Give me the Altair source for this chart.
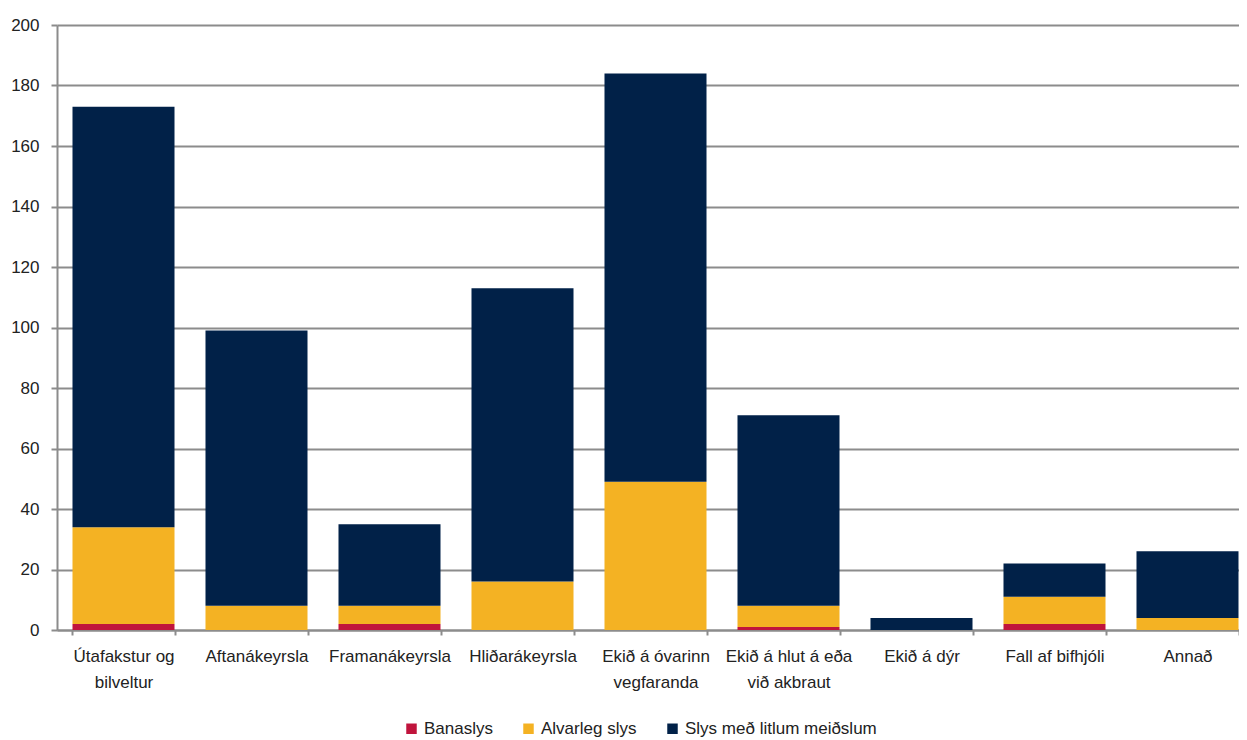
import altair as alt
import pandas as pd

categories = ["Útafakstur og|bilveltur", "Aftanákeyrsla", "Framanákeyrsla", "Hliðarákeyrsla",
              "Ekið á óvarinn|vegfaranda", "Ekið á hlut á eða|við akbraut", "Ekið á dýr",
              "Fall af bifhjóli", "Annað"]
series = ["Banaslys", "Alvarleg slys", "Slys með litlum meiðslum"]
banaslys = [2, 0, 2, 0, 0, 1, 0, 2, 0]
alvarleg = [32, 8, 6, 16, 49, 7, 0, 9, 4]
litlum = [139, 91, 27, 97, 135, 63, 4, 11, 22]
colors = ["#C0143C", "#F4B223", "#012148"]
y_ticks = list(range(0, 201, 20))

rows = []
for i, c in enumerate(categories):
    for k, (s, vals) in enumerate(zip(series, [banaslys, alvarleg, litlum])):
        rows.append({"cat": c, "series": s, "value": vals[i], "ord": k})
df = pd.DataFrame(rows)

FONT = "Liberation Sans"
GRAY = "#8c8c8c"
FS = 17

chart = alt.Chart(df).mark_bar().encode(
    x=alt.X("cat:N", sort=categories,
            scale=alt.Scale(paddingInner=0.233, paddingOuter=0.1165, range=[0, 1197]),
            axis=alt.Axis(title=None, labelAngle=0, labelExpr="split(datum.label, '|')",
                          tickBand="extent", ticks=True, tickSize=5, tickColor=GRAY, tickWidth=2,
                          domainColor=GRAY, domainWidth=2, labelFontSize=FS, labelLineHeight=26,
                          labelPadding=13, labelLimit=300, labelColor="#222222", grid=False,
                          labelFont=FONT, labelBaseline="top")),
    y=alt.Y("value:Q", stack="zero",
            scale=alt.Scale(domain=[0, 200], nice=False),
            axis=alt.Axis(title=None, values=y_ticks, gridColor=GRAY, gridWidth=2, tickSize=6,
                          tickColor=GRAY, tickWidth=2, domainColor=GRAY, domainWidth=2,
                          labelPadding=12, labelFontSize=FS, labelColor="#222222", labelFont=FONT)),
    color=alt.Color("series:N", scale=alt.Scale(domain=series, range=colors),
                    legend=alt.Legend(title=None, orient="none", legendX=346, legendY=695,
                                      direction="horizontal", symbolType="square", symbolSize=110,
                                      symbolStrokeWidth=0, labelFontSize=FS, labelFont=FONT,
                                      labelColor="#222222", columnPadding=27, labelOffset=4,
                                      labelLimit=400)),
    order=alt.Order("ord:Q"),
).properties(width=1182, height=605,
             autosize=alt.AutoSizeParams(type="none"),
             padding={"left": 49, "top": 17, "right": 0, "bottom": 110}).configure_view(stroke=None)

chart.save("out.html", embed_options={"renderer": "svg", "actions": False})
